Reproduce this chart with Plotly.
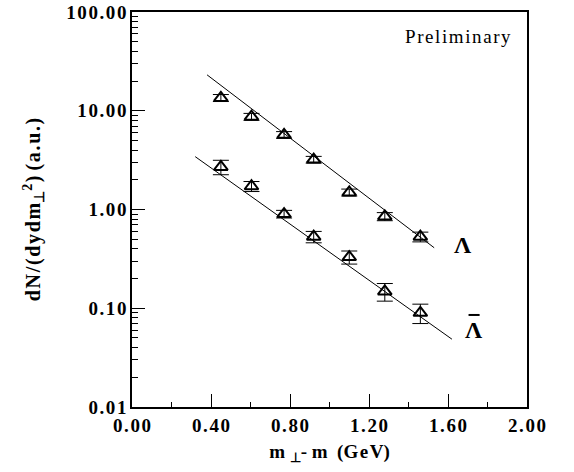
import plotly.graph_objects as go

# Data
mt_lambda = [0.45, 0.605, 0.77, 0.92, 1.10, 1.28, 1.46]
y_lambda = [13.5, 8.7, 5.7, 3.2, 1.49, 0.85, 0.53]
e_lambda = [1.1, 0.7, 0.45, 0.25, 0.12, 0.08, 0.06]

mt_alambda = [0.45, 0.605, 0.77, 0.92, 1.10, 1.28, 1.46]
y_alambda = [2.7, 1.72, 0.9, 0.53, 0.33, 0.148, 0.09]
e_alambda = [0.45, 0.2, 0.08, 0.07, 0.05, 0.03, 0.02]

fit_lambda_x = [0.38, 1.53]
fit_lambda_y = [23.1, 0.41]
fit_alambda_x = [0.32, 1.62]
fit_alambda_y = [3.43, 0.0486]

x_tickvals = [0.0, 0.4, 0.8, 1.2, 1.6, 2.0]
x_ticktext = ["0.00", "0.40", "0.80", "1.20", "1.60", "2.00"]
y_tickvals = [0.01, 0.1, 1, 10, 100]
y_ticktext = ["0.01", "0.10", "1.00", "10.00", "100.00"]

FONT = "Liberation Serif"
HS = "\u200a"


def spaced(s):
    return HS.join(list(s))


fig = go.Figure()

fig.add_trace(go.Scatter(x=fit_lambda_x, y=fit_lambda_y, mode="lines",
                         line=dict(color="black", width=1), showlegend=False))
fig.add_trace(go.Scatter(x=fit_alambda_x, y=fit_alambda_y, mode="lines",
                         line=dict(color="black", width=1), showlegend=False))

for xs, ys, es in [(mt_lambda, y_lambda, e_lambda), (mt_alambda, y_alambda, e_alambda)]:
    fig.add_trace(go.Scatter(
        x=xs, y=ys, mode="markers",
        marker=dict(symbol="triangle-up-open", size=12, color="black", line=dict(width=2)),
        error_y=dict(type="data", array=es, visible=True, color="black", thickness=1, width=8),
        showlegend=False))

tickfont = dict(family=FONT, size=19, color="black", weight="bold")

fig.update_xaxes(range=[0, 2], showline=True, linecolor="black", linewidth=1.5, mirror=True,
                 ticks="inside", ticklen=13, tickwidth=1, tickcolor="black",
                 tickvals=x_tickvals, ticktext=[spaced(t) for t in x_ticktext],
                 minor=dict(ticks="inside", ticklen=5, tickwidth=1, tickcolor="black", dtick=0.2),
                 showgrid=False, zeroline=False, automargin=False,
                 tickfont=tickfont,
                 title=dict(text="m <sub>⊥</sub>- m  (" + spaced("GeV") + ")", standoff=10,
                            font=tickfont))
fig.update_yaxes(type="log", range=[-2, 2], showline=True, linecolor="black", linewidth=1.5, mirror=True,
                 ticks="inside", ticklen=13, tickwidth=1, tickcolor="black",
                 tickvals=y_tickvals, ticktext=[spaced(t) for t in y_ticktext],
                 minor=dict(ticks="inside", ticklen=6, tickwidth=1, tickcolor="black",
                            tickvals=[v * m for v in [0.01, 0.1, 1, 10] for m in range(2, 10)]),
                 showgrid=False, zeroline=False, automargin=False,
                 tickfont=tickfont,
                 title=dict(text=spaced("dN/(dydm") + "<sub>⊥</sub><sup>2</sup>" + HS + ") " + spaced("(a.u.)"),
                            standoff=20, font=dict(family=FONT, size=20, color="black", weight="bold")))

fig.add_annotation(x=0.825, y=0.937, xref="paper", yref="paper", text=spaced("Preliminary"),
                   xanchor="center", yanchor="middle",
                   showarrow=False, font=dict(family=FONT, size=19, color="black"))
fig.add_annotation(x=0.838, y=0.41, xref="paper", yref="paper", text="Λ",
                   xanchor="center", yanchor="middle",
                   showarrow=False, font=dict(family=FONT, size=24, color="black", weight="bold"))
fig.add_annotation(x=0.866, y=0.195, xref="paper", yref="paper", text="Λ",
                   xanchor="center", yanchor="middle",
                   showarrow=False, font=dict(family=FONT, size=24, color="black", weight="bold"))
fig.add_shape(type="line", xref="paper", yref="paper", x0=0.852, x1=0.88, y0=0.233, y1=0.233,
              line=dict(color="black", width=2))

fig.update_layout(width=574, height=472, margin=dict(l=132, r=47, t=12, b=65),
                  plot_bgcolor="white", paper_bgcolor="white")

fig.write_html("out.html")
